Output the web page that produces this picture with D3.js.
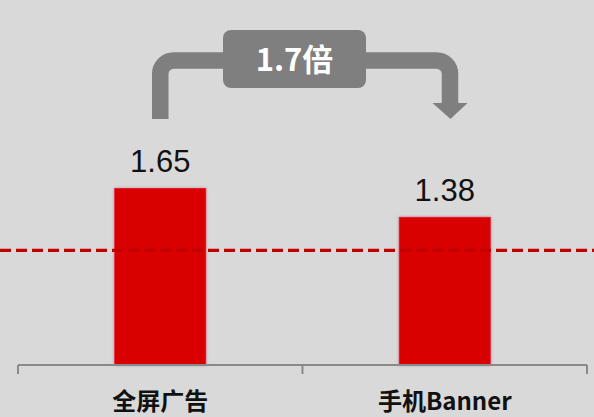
<!DOCTYPE html>
<html>
<head>
<meta charset="utf-8">
<script src="https://cdn.jsdelivr.net/npm/d3@7/dist/d3.min.js"></script>
<style>
  html, body { margin: 0; padding: 0; background: #d9d9d9; }
  svg { display: block; }
</style>
</head>
<body>
<script>
// Ad format comparison data
const categories = ["全屏广告", "手机Banner"];
const values = [1.65, 1.38];
const valueLabels = ["1.65", "1.38"];
const benchmark = [1.07];
const ratioLabel = ["1.7倍"];

const W = 594, H = 417;
const svg = d3.select("body").append("svg")
  .attr("width", W).attr("height", H)
  .style("background", "#d9d9d9");

const defs = svg.append("defs");
const shadow = defs.append("filter").attr("id", "barShadow")
  .attr("x", "-20%").attr("y", "-20%").attr("width", "140%").attr("height", "140%");
shadow.append("feDropShadow")
  .attr("dx", 0).attr("dy", 0).attr("stdDeviation", 1.6)
  .attr("flood-color", "#000").attr("flood-opacity", 0.28);

const baseY = 365;
const x = d3.scaleBand().domain(categories).range([18, 587]).padding(0);
const y = d3.scaleLinear().domain([0, 3.41]).range([baseY, 0]);
const barW = x.bandwidth() * 0.32;
const cx = d => x(d) + x.bandwidth() / 2;

// Bars
svg.append("g").selectAll("rect")
  .data(categories)
  .join("rect")
  .attr("x", (d) => cx(d) - barW / 2)
  .attr("y", (d, i) => y(values[i]))
  .attr("width", barW)
  .attr("height", (d, i) => baseY - y(values[i]))
  .attr("fill", "#d90000")
  .attr("stroke", "#ea1430")
  .attr("stroke-width", 0.8)
  .attr("filter", "url(#barShadow)");

// Value labels
svg.append("g").selectAll("text")
  .data(categories)
  .join("text")
  .attr("x", d => cx(d))
  .attr("y", (d, i) => y(values[i]) - 16)
  .attr("text-anchor", "middle")
  .attr("font-family", "'Liberation Sans', Arial, sans-serif")
  .attr("font-size", 31)
  .attr("fill", "#111")
  .text((d, i) => valueLabels[i]);

// Benchmark dashed line
svg.append("line")
  .attr("x1", 0).attr("x2", W)
  .attr("y1", y(benchmark[0])).attr("y2", y(benchmark[0]))
  .attr("stroke", "#c00000")
  .attr("stroke-width", 3.2)
  .attr("stroke-dasharray", "11 5");

// Category axis
const xEdges = [x.range()[0], ...categories.slice(1).map(d => x(d)), x.range()[1]];
const axis = svg.append("g").attr("stroke", "#8a8a8a").attr("stroke-width", 2).attr("fill", "none");
axis.append("line").attr("x1", xEdges[0]).attr("x2", xEdges[xEdges.length - 1])
  .attr("y1", baseY).attr("y2", baseY);
axis.selectAll("line.tick").data(xEdges).join("line").attr("class", "tick")
  .attr("x1", d => d).attr("x2", d => d)
  .attr("y1", baseY).attr("y2", baseY + 9);

svg.append("g").selectAll("text")
  .data(categories)
  .join("text")
  .attr("x", d => cx(d))
  .attr("y", 410)
  .attr("text-anchor", "middle")
  .attr("font-family", "'Noto Sans CJK SC', sans-serif")
  .attr("font-weight", "bold")
  .attr("font-size", 24)
  .attr("fill", "#111")
  .text(d => d);

// Ratio connector arrow
const x0 = cx(categories[0]), x1 = 450;
const topY = 60.5, r = 13.5, stemStart = 119, headY = 103;
const arrow = d3.path();
arrow.moveTo(x0, stemStart);
arrow.lineTo(x0, topY + r);
arrow.arcTo(x0, topY, x0 + r, topY, r);
arrow.lineTo(x1 - r, topY);
arrow.arcTo(x1, topY, x1, topY + r, r);
arrow.lineTo(x1, headY + 1);
svg.append("path").attr("d", arrow.toString())
  .attr("fill", "none").attr("stroke", "#7f7f7f").attr("stroke-width", 16.5);
svg.append("path")
  .attr("d", `M${x1 - 17.5},${headY}L${x1 + 17.5},${headY}L${x1 + 0.5},${stemStart}Z`)
  .attr("fill", "#7f7f7f");

// Ratio label box
svg.append("rect")
  .attr("x", 223).attr("y", 30).attr("width", 143).attr("height", 58)
  .attr("rx", 8).attr("fill", "#7f7f7f");
svg.append("text")
  .attr("x", 294.5).attr("y", 71)
  .attr("text-anchor", "middle")
  .attr("font-family", "'Noto Sans CJK SC', 'Liberation Sans', sans-serif")
  .attr("font-weight", "bold")
  .attr("font-size", 31)
  .attr("fill", "#ffffff")
  .text(ratioLabel[0]);
</script>
</body>
</html>
